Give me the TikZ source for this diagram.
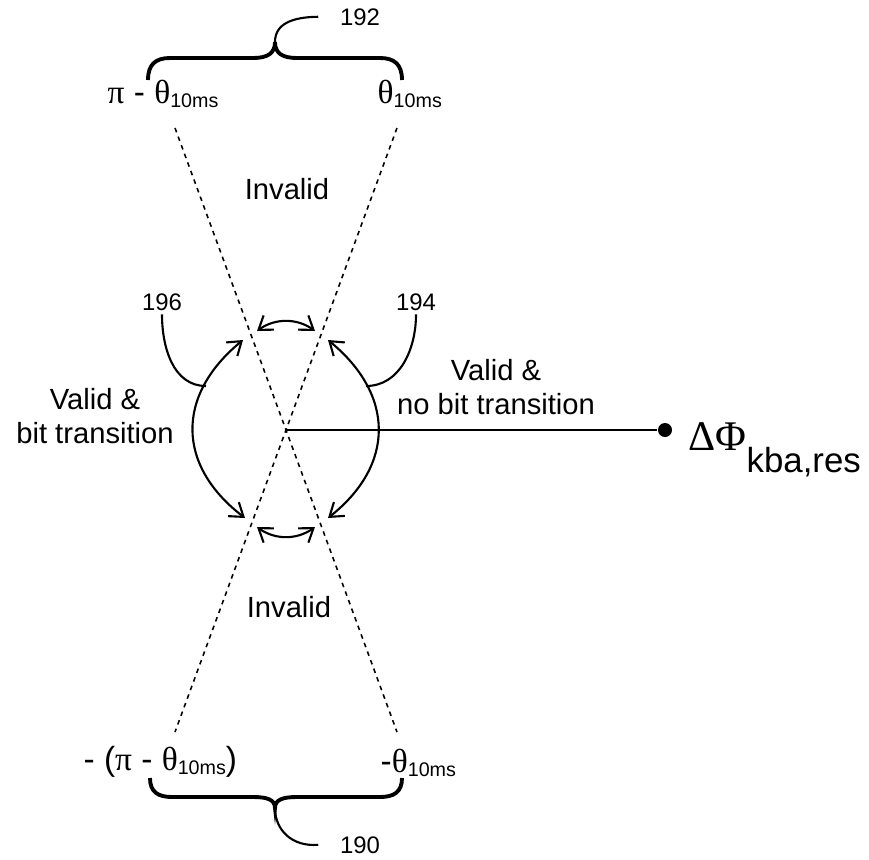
\documentclass[tikz,border=0pt]{standalone}
\usepackage{fontspec}
\setmainfont{Liberation Sans}
\newfontfamily\grk{Liberation Serif}
\usetikzlibrary{arrows.meta}
\newcommand\sbs[1]{\raisebox{-1.2pt}{\fontsize{5.6}{6}\selectfont #1}}

\begin{document}
\begin{tikzpicture}[x=0.01cm, y=-0.01cm,
                    txt/.style={font=\fontsize{8.3}{9.8}\selectfont, inner sep=0pt, align=center},
                    num/.style={font=\fontsize{6.8}{8}\selectfont, inner sep=1pt},
                    ang/.style={font=\fontsize{9.5}{11}\selectfont, inner sep=0pt},
                    cut/.style={dash pattern=on 1.3pt off 1.3pt, line width=0.45pt},
                    brace/.style={line width=1.1pt},
                    lead/.style={line width=0.6pt},
                    swing/.style={line width=0.6pt, {Straight Barb[length=3.6pt,width=5pt]}-{Straight Barb[length=3.6pt,width=5pt]}}
]
\useasboundingbox (0,0) rectangle (869,860);

\coordinate (O) at (286,430);
\coordinate (tl) at (175,128);
\coordinate (tr) at (397,128);
\coordinate (bl) at (175,732);
\coordinate (br) at (397,732);
\draw [cut] (tl) -- (br);
\draw [cut] (tr) -- (bl);
%
\node [circle, fill, inner sep=0pt, minimum size=0.14cm] at (665,430) (dot) {};
\draw [lead] (O) -- (dot);
\node [anchor=base west, inner sep=0pt] at (688,450) (res)
      {{\fontsize{12}{14}\selectfont\grk ΔΦ}\raisebox{-6.3pt}{\fontsize{9.9}{11}\selectfont kba,res}};
%
\node [ang, anchor=base west] at (107,103) (lblTL) {{\grk π} - {\grk θ}\sbs{10ms}};
\node [ang, anchor=base west] at (377,103) (lblTR) {{\grk θ}\sbs{10ms}};
\node [ang, anchor=base west] at (83,770) (lblBL) {- ({\grk π} - {\grk θ}\sbs{10ms})};
\node [ang, anchor=base west] at (380,772) (lblBR) {-{\grk θ}\sbs{10ms}};
%
\node [txt, anchor=base] at (287,199) (invTop) {Invalid};
\node [txt, anchor=base] at (289,617) (invBot) {Invalid};
\node [txt] at (95,416) (validL) {Valid \&\\bit transition};
\node [txt] at (496,387) (validR) {Valid \&\\no bit transition};
%
\node [num, anchor=base] at (162,310) (n196) {196};
\node [num, anchor=base] at (416,310) (n194) {194};
\node [num, anchor=base] at (360,25) (n192) {192};
\node [num, anchor=base] at (360,853) (n190) {190};
%
\coordinate (a1) at (243,340);
\coordinate (a2) at (245,518);
\coordinate (b1) at (328,340);
\coordinate (b2) at (328,518);
\draw [swing] (a1) .. controls (176,395) and (176,465) .. (a2);
\draw [swing] (b1) .. controls (395,395) and (395,465) .. (b2);
\coordinate (s1) at (257,331);
\coordinate (s2) at (315,331);
\coordinate (s3) at (257,527);
\coordinate (s4) at (315,527);
\draw [swing] (s1) .. controls (275,318) and (297,318) .. (s2);
\draw [swing] (s3) .. controls (275,540) and (297,540) .. (s4);
%
\coordinate (m196) at (206,386);
\coordinate (m194) at (366,386);
\draw [lead] (n196.south) to[out=-90, in=180] (m196);
\draw [lead] (n194.south) to[out=-90, in=0] (m194);
%
\coordinate (t1) at (148,80);
\coordinate (tc) at (275,42);
\coordinate (t2) at (402,80);
\draw [brace] (t1) .. controls (148,64) and (156,58) .. (170,58) -- (253,58)
      .. controls (268,58) and (275,53) .. (tc) .. controls (275,53) and (282,58) .. (297,58)
      -- (380,58) .. controls (394,58) and (402,64) .. (t2);
\draw [lead] (tc) .. controls (275,24) and (292,17) .. ([xshift=-5pt]n192.west);
%
\coordinate (d1) at (150,778);
\coordinate (dc) at (275,808);
\coordinate (d2) at (402,778);
\draw [brace] (d1) .. controls (150,792) and (158,797) .. (172,797) -- (253,797)
      .. controls (268,797) and (275,800) .. (dc) .. controls (275,800) and (282,797) .. (297,797)
      -- (380,797) .. controls (394,797) and (402,792) .. (d2);
\draw [lead] (dc) .. controls (275,830) and (292,847) .. ([xshift=-5pt]n190.west);
\end{tikzpicture}
\end{document}
